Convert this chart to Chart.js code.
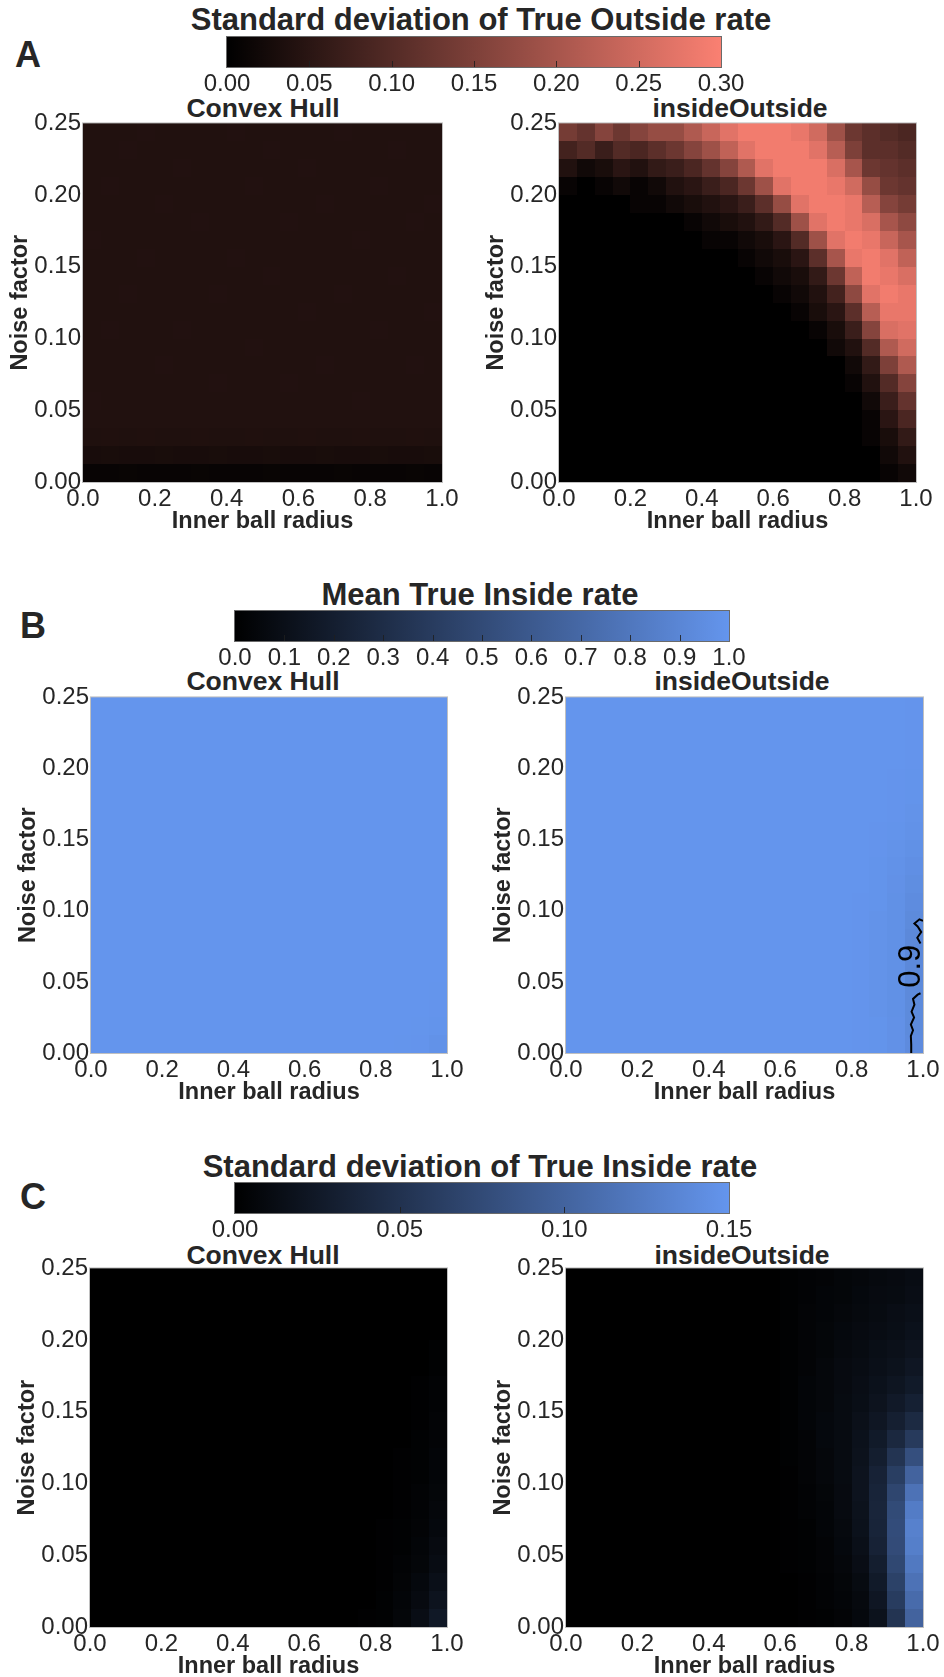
<!DOCTYPE html>
<html>
<head>
<meta charset="utf-8">
<script src="https://cdn.jsdelivr.net/npm/chart.js@4.4.1/dist/chart.umd.min.js"></script>
<style>
  body { margin: 0; background: #fff; }
  #page { position: relative; width: 944px; height: 1677px; overflow: hidden;
          font-family: 'Liberation Sans', Arial, sans-serif; color: #262626; }
  .txt { position: absolute; white-space: nowrap; line-height: 1; font-weight: bold; transform: translateX(-50%); }
  canvas { position: absolute; }
</style>
</head>
<body>
<div id="page">
  <div class="txt" style="left:28px; top:37px; font-size:36px;">A</div>
  <div class="txt" style="left:33px; top:608px; font-size:36px;">B</div>
  <div class="txt" style="left:33px; top:1179px; font-size:36px;">C</div>

  <div class="txt" style="left:481px; top:4px; font-size:31px;">Standard deviation of True Outside rate</div>
  <div class="txt" style="left:480px; top:579px; font-size:31px;">Mean True Inside rate</div>
  <div class="txt" style="left:480px; top:1151px; font-size:31px;">Standard deviation of True Inside rate</div>

  <div class="txt" style="left:263px; top:95px; font-size:26.5px;">Convex Hull</div>
  <div class="txt" style="left:740px; top:95px; font-size:26.5px;">insideOutside</div>
  <div class="txt" style="left:263px; top:668px; font-size:26.5px;">Convex Hull</div>
  <div class="txt" style="left:742px; top:668px; font-size:26.5px;">insideOutside</div>
  <div class="txt" style="left:263px; top:1242px; font-size:26.5px;">Convex Hull</div>
  <div class="txt" style="left:742px; top:1242px; font-size:26.5px;">insideOutside</div>

  <canvas id="cbA"></canvas>
  <canvas id="cbB"></canvas>
  <canvas id="cbC"></canvas>
  <canvas id="hmA1"></canvas>
  <canvas id="hmA2"></canvas>
  <canvas id="hmB1"></canvas>
  <canvas id="hmB2"></canvas>
  <canvas id="hmC1"></canvas>
  <canvas id="hmC2"></canvas>
</div>

<script>
// grid cell edges
const radiusEdges = [0, 0.05, 0.1, 0.15, 0.2, 0.25, 0.3, 0.35, 0.4, 0.45, 0.5, 0.55, 0.6, 0.65, 0.7, 0.75, 0.8, 0.85, 0.9, 0.95, 1.0];
const noiseEdges = [0, 0.0125, 0.025, 0.0375, 0.05, 0.0625, 0.075, 0.0875, 0.1, 0.1125, 0.125, 0.1375, 0.15, 0.1625, 0.175, 0.1875, 0.2, 0.2125, 0.225, 0.2375, 0.25];

// tick labels
const radiusTicks = [0, 0.2, 0.4, 0.6, 0.8, 1.0];
const noiseTicks = [0, 0.05, 0.1, 0.15, 0.2, 0.25];
const outsideStdTicks = [0, 0.05, 0.1, 0.15, 0.2, 0.25, 0.3];
const insideMeanTicks = [0, 0.1, 0.2, 0.3, 0.4, 0.5, 0.6, 0.7, 0.8, 0.9, 1.0];
const insideStdTicks = [0, 0.05, 0.1, 0.15];

// values, rows listed from noise 0.25 (top) down to 0 (bottom)
const convexOutsideStd = [
  [0.04,0.04,0.04,0.041,0.04,0.04,0.04,0.04,0.041,0.04,0.04,0.04,0.04,0.04,0.041,0.04,0.04,0.04,0.04,0.04],
  [0.04,0.04,0.041,0.04,0.04,0.04,0.04,0.04,0.04,0.04,0.041,0.04,0.04,0.04,0.04,0.04,0.04,0.041,0.04,0.04],
  [0.04,0.04,0.04,0.04,0.04,0.041,0.04,0.04,0.04,0.04,0.04,0.04,0.041,0.04,0.04,0.04,0.04,0.04,0.04,0.04],
  [0.04,0.041,0.04,0.04,0.04,0.04,0.04,0.04,0.04,0.041,0.04,0.04,0.04,0.04,0.04,0.04,0.041,0.04,0.04,0.04],
  [0.04,0.04,0.04,0.04,0.041,0.04,0.04,0.04,0.04,0.04,0.04,0.04,0.04,0.041,0.04,0.04,0.04,0.04,0.04,0.041],
  [0.04,0.04,0.04,0.04,0.04,0.04,0.041,0.04,0.04,0.04,0.04,0.041,0.04,0.04,0.04,0.04,0.04,0.04,0.041,0.04],
  [0.041,0.04,0.04,0.04,0.04,0.04,0.04,0.04,0.04,0.04,0.04,0.04,0.04,0.04,0.04,0.041,0.04,0.04,0.04,0.04],
  [0.04,0.04,0.04,0.041,0.04,0.04,0.04,0.04,0.041,0.04,0.04,0.04,0.04,0.04,0.04,0.04,0.04,0.04,0.04,0.04],
  [0.04,0.04,0.04,0.04,0.04,0.04,0.04,0.04,0.04,0.04,0.041,0.04,0.04,0.04,0.04,0.04,0.04,0.041,0.04,0.04],
  [0.04,0.04,0.041,0.04,0.04,0.04,0.04,0.041,0.04,0.04,0.04,0.04,0.04,0.04,0.041,0.04,0.04,0.04,0.04,0.04],
  [0.04,0.04,0.04,0.04,0.04,0.04,0.04,0.04,0.04,0.04,0.04,0.04,0.041,0.04,0.04,0.04,0.04,0.04,0.04,0.041],
  [0.04,0.041,0.04,0.04,0.04,0.041,0.04,0.04,0.04,0.04,0.04,0.04,0.04,0.04,0.04,0.04,0.041,0.04,0.04,0.04],
  [0.04,0.04,0.04,0.04,0.04,0.04,0.04,0.04,0.04,0.041,0.04,0.04,0.04,0.04,0.04,0.04,0.04,0.04,0.04,0.04],
  [0.04,0.04,0.04,0.04,0.041,0.04,0.04,0.04,0.04,0.04,0.04,0.04,0.04,0.041,0.04,0.04,0.04,0.04,0.041,0.04],
  [0.04,0.04,0.04,0.04,0.04,0.04,0.04,0.041,0.04,0.04,0.04,0.041,0.04,0.04,0.04,0.04,0.04,0.04,0.04,0.04],
  [0.041,0.04,0.04,0.04,0.04,0.04,0.04,0.04,0.04,0.04,0.04,0.04,0.04,0.04,0.04,0.041,0.04,0.04,0.04,0.04],
  [0.039,0.04,0.039,0.04,0.039,0.04,0.04,0.039,0.04,0.04,0.039,0.04,0.04,0.039,0.04,0.04,0.039,0.04,0.039,0.04],
  [0.037,0.038,0.037,0.038,0.037,0.037,0.038,0.037,0.037,0.038,0.037,0.037,0.038,0.037,0.037,0.038,0.037,0.037,0.038,0.037],
  [0.029,0.03,0.029,0.029,0.03,0.029,0.029,0.03,0.029,0.029,0.03,0.029,0.029,0.03,0.029,0.029,0.03,0.029,0.029,0.03],
  [0.01,0.01,0.011,0.01,0.01,0.01,0.011,0.01,0.01,0.01,0.011,0.01,0.01,0.01,0.011,0.01,0.01,0.01,0.011,0.01]
];

const ioOutsideStd = [
  [0.14,0.12,0.16,0.13,0.16,0.18,0.18,0.21,0.24,0.27,0.29,0.29,0.29,0.28,0.25,0.19,0.13,0.11,0.10,0.09],
  [0.08,0.10,0.07,0.10,0.09,0.11,0.13,0.16,0.19,0.23,0.27,0.29,0.29,0.29,0.27,0.22,0.15,0.11,0.11,0.10],
  [0.04,0.02,0.03,0.05,0.04,0.06,0.07,0.09,0.12,0.16,0.21,0.27,0.29,0.29,0.29,0.26,0.20,0.13,0.12,0.11],
  [0.01,0,0.01,0.02,0.01,0.02,0.04,0.05,0.07,0.09,0.13,0.19,0.27,0.29,0.29,0.28,0.25,0.18,0.13,0.12],
  [0,0,0,0,0.01,0.01,0.02,0.03,0.04,0.05,0.07,0.11,0.18,0.27,0.29,0.29,0.28,0.22,0.16,0.14],
  [0,0,0,0,0,0,0,0.01,0.02,0.03,0.04,0.06,0.10,0.19,0.27,0.29,0.28,0.26,0.20,0.17],
  [0,0,0,0,0,0,0,0,0.01,0.01,0.02,0.03,0.05,0.10,0.19,0.27,0.29,0.28,0.24,0.20],
  [0,0,0,0,0,0,0,0,0,0,0.01,0.02,0.03,0.05,0.11,0.20,0.28,0.29,0.27,0.23],
  [0,0,0,0,0,0,0,0,0,0,0,0.01,0.02,0.03,0.06,0.13,0.23,0.29,0.28,0.26],
  [0,0,0,0,0,0,0,0,0,0,0,0,0.01,0.02,0.04,0.08,0.17,0.27,0.29,0.28],
  [0,0,0,0,0,0,0,0,0,0,0,0,0,0.01,0.03,0.05,0.11,0.22,0.28,0.28],
  [0,0,0,0,0,0,0,0,0,0,0,0,0,0,0.01,0.03,0.07,0.16,0.26,0.27],
  [0,0,0,0,0,0,0,0,0,0,0,0,0,0,0,0.02,0.04,0.10,0.21,0.25],
  [0,0,0,0,0,0,0,0,0,0,0,0,0,0,0,0,0.02,0.06,0.15,0.21],
  [0,0,0,0,0,0,0,0,0,0,0,0,0,0,0,0,0.01,0.04,0.10,0.16],
  [0,0,0,0,0,0,0,0,0,0,0,0,0,0,0,0,0,0.02,0.07,0.12],
  [0,0,0,0,0,0,0,0,0,0,0,0,0,0,0,0,0,0.01,0.05,0.09],
  [0,0,0,0,0,0,0,0,0,0,0,0,0,0,0,0,0,0.01,0.03,0.06],
  [0,0,0,0,0,0,0,0,0,0,0,0,0,0,0,0,0,0,0.02,0.04],
  [0,0,0,0,0,0,0,0,0,0,0,0,0,0,0,0,0,0,0.01,0.02]
];

const convexInsideMean = [
  [1,1,1,1,1,1,1,1,1,1,1,1,1,1,1,1,1,1,1,1],
  [1,1,1,1,1,1,1,1,1,1,1,1,1,1,1,1,1,1,1,1],
  [1,1,1,1,1,1,1,1,1,1,1,1,1,1,1,1,1,1,1,1],
  [1,1,1,1,1,1,1,1,1,1,1,1,1,1,1,1,1,1,1,1],
  [1,1,1,1,1,1,1,1,1,1,1,1,1,1,1,1,1,1,1,1],
  [1,1,1,1,1,1,1,1,1,1,1,1,1,1,1,1,1,1,1,1],
  [1,1,1,1,1,1,1,1,1,1,1,1,1,1,1,1,1,1,1,1],
  [1,1,1,1,1,1,1,1,1,1,1,1,1,1,1,1,1,1,1,1],
  [1,1,1,1,1,1,1,1,1,1,1,1,1,1,1,1,1,1,1,1],
  [1,1,1,1,1,1,1,1,1,1,1,1,1,1,1,1,1,1,1,1],
  [1,1,1,1,1,1,1,1,1,1,1,1,1,1,1,1,1,1,1,1],
  [1,1,1,1,1,1,1,1,1,1,1,1,1,1,1,1,1,1,1,1],
  [1,1,1,1,1,1,1,1,1,1,1,1,1,1,1,1,1,1,1,1],
  [1,1,1,1,1,1,1,1,1,1,1,1,1,1,1,1,1,1,1,1],
  [1,1,1,1,1,1,1,1,1,1,1,1,1,1,1,1,1,1,1,1],
  [1,1,1,1,1,1,1,1,1,1,1,1,1,1,1,1,1,1,1,1],
  [1,1,1,1,1,1,1,1,1,1,1,1,1,1,1,1,1,1,1,0.997],
  [1,1,1,1,1,1,1,1,1,1,1,1,1,1,1,1,1,1,1,0.995],
  [1,1,1,1,1,1,1,1,1,1,1,1,1,1,1,1,1,1,0.997,0.99],
  [1,1,1,1,1,1,1,1,1,1,1,1,1,1,1,1,1,0.997,0.995,0.98]
];

const ioInsideMean = [
  [1,1,1,1,1,1,1,1,1,1,1,1,1,1,1,1,1,1,1,0.995],
  [1,1,1,1,1,1,1,1,1,1,1,1,1,1,1,1,1,1,1,0.995],
  [1,1,1,1,1,1,1,1,1,1,1,1,1,1,1,1,1,1,1,0.995],
  [1,1,1,1,1,1,1,1,1,1,1,1,1,1,1,1,1,1,1,0.995],
  [1,1,1,1,1,1,1,1,1,1,1,1,1,1,1,1,1,1,0.995,0.99],
  [1,1,1,1,1,1,1,1,1,1,1,1,1,1,1,1,1,1,0.995,0.99],
  [1,1,1,1,1,1,1,1,1,1,1,1,1,1,1,1,1,1,0.995,0.985],
  [1,1,1,1,1,1,1,1,1,1,1,1,1,1,1,1,1,0.995,0.99,0.98],
  [1,1,1,1,1,1,1,1,1,1,1,1,1,1,1,1,1,0.995,0.985,0.97],
  [1,1,1,1,1,1,1,1,1,1,1,1,1,1,1,1,1,0.99,0.98,0.96],
  [1,1,1,1,1,1,1,1,1,1,1,1,1,1,1,1,1,0.99,0.975,0.95],
  [1,1,1,1,1,1,1,1,1,1,1,1,1,1,1,1,0.995,0.99,0.97,0.94],
  [1,1,1,1,1,1,1,1,1,1,1,1,1,1,1,1,0.995,0.985,0.97,0.93],
  [1,1,1,1,1,1,1,1,1,1,1,1,1,1,1,1,0.995,0.985,0.97,0.92],
  [1,1,1,1,1,1,1,1,1,1,1,1,1,1,1,1,0.995,0.985,0.97,0.92],
  [1,1,1,1,1,1,1,1,1,1,1,1,1,1,1,1,0.995,0.985,0.97,0.92],
  [1,1,1,1,1,1,1,1,1,1,1,1,1,1,1,1,0.995,0.985,0.97,0.925],
  [1,1,1,1,1,1,1,1,1,1,1,1,1,1,1,1,0.995,0.985,0.97,0.93],
  [1,1,1,1,1,1,1,1,1,1,1,1,1,1,1,1,0.995,0.99,0.975,0.93],
  [1,1,1,1,1,1,1,1,1,1,1,1,1,1,1,1,0.995,0.99,0.975,0.935]
];

// the 0.9 contour of the insideOutside mean, split where its label sits
const contourLevel = 0.9;
const contourLowerX = [0.967, 0.967, 0.966, 0.972, 0.966, 0.975, 0.968, 0.976, 0.972, 0.985, 0.993];
const contourLowerY = [0.000, 0.006, 0.012, 0.016, 0.020, 0.025, 0.029, 0.034, 0.038, 0.041, 0.042];
const contourUpperX = [0.993, 0.984, 0.995, 0.985, 0.976, 0.990, 1.000];
const contourUpperY = [0.077, 0.081, 0.085, 0.089, 0.091, 0.094, 0.093];
const contourLabelAt = [0.969, 0.061];

const convexInsideStd = [
  [0,0,0,0,0,0,0,0,0,0,0,0,0,0,0,0,0,0,0,0],
  [0,0,0,0,0,0,0,0,0,0,0,0,0,0,0,0,0,0,0,0],
  [0,0,0,0,0,0,0,0,0,0,0,0,0,0,0,0,0,0,0,0],
  [0,0,0,0,0,0,0,0,0,0,0,0,0,0,0,0,0,0,0,0],
  [0,0,0,0,0,0,0,0,0,0,0,0,0,0,0,0,0,0,0,0.002],
  [0,0,0,0,0,0,0,0,0,0,0,0,0,0,0,0,0,0,0,0.002],
  [0,0,0,0,0,0,0,0,0,0,0,0,0,0,0,0,0,0,0.001,0.003],
  [0,0,0,0,0,0,0,0,0,0,0,0,0,0,0,0,0,0,0.001,0.003],
  [0,0,0,0,0,0,0,0,0,0,0,0,0,0,0,0,0,0,0.001,0.004],
  [0,0,0,0,0,0,0,0,0,0,0,0,0,0,0,0,0,0,0.002,0.004],
  [0,0,0,0,0,0,0,0,0,0,0,0,0,0,0,0,0,0.001,0.002,0.005],
  [0,0,0,0,0,0,0,0,0,0,0,0,0,0,0,0,0,0.001,0.002,0.005],
  [0,0,0,0,0,0,0,0,0,0,0,0,0,0,0,0,0,0.001,0.003,0.006],
  [0,0,0,0,0,0,0,0,0,0,0,0,0,0,0,0,0,0.001,0.003,0.007],
  [0,0,0,0,0,0,0,0,0,0,0,0,0,0,0,0,0.001,0.002,0.004,0.008],
  [0,0,0,0,0,0,0,0,0,0,0,0,0,0,0,0,0.001,0.002,0.005,0.01],
  [0,0,0,0,0,0,0,0,0,0,0,0,0,0,0,0,0.001,0.003,0.006,0.012],
  [0,0,0,0,0,0,0,0,0,0,0,0,0,0,0,0,0.001,0.004,0.008,0.015],
  [0,0,0,0,0,0,0,0,0,0,0,0,0,0,0,0,0.002,0.005,0.01,0.019],
  [0,0,0,0,0,0,0,0,0,0,0,0,0,0,0,0.001,0.002,0.006,0.013,0.024]
];

const ioInsideStd = [
  [0,0,0,0,0,0,0,0,0,0,0,0,0.002,0.003,0.004,0.006,0.007,0.009,0.010,0.012],
  [0,0,0,0,0,0,0,0,0,0,0,0,0.002,0.003,0.005,0.006,0.008,0.010,0.011,0.013],
  [0,0,0,0,0,0,0,0,0,0,0,0,0.002,0.004,0.005,0.007,0.009,0.011,0.013,0.015],
  [0,0,0,0,0,0,0,0,0,0,0,0,0.002,0.004,0.006,0.008,0.010,0.012,0.014,0.017],
  [0,0,0,0,0,0,0,0,0,0,0,0,0.002,0.004,0.006,0.009,0.011,0.014,0.016,0.019],
  [0,0,0,0,0,0,0,0,0,0,0,0,0.002,0.004,0.007,0.010,0.012,0.015,0.018,0.022],
  [0,0,0,0,0,0,0,0,0,0,0,0,0.002,0.005,0.007,0.010,0.013,0.017,0.021,0.026],
  [0,0,0,0,0,0,0,0,0,0,0,0,0.002,0.005,0.007,0.011,0.014,0.019,0.025,0.032],
  [0,0,0,0,0,0,0,0,0,0,0,0,0.002,0.005,0.008,0.011,0.016,0.022,0.031,0.042],
  [0,0,0,0,0,0,0,0,0,0,0,0,0.002,0.004,0.008,0.011,0.017,0.026,0.040,0.058],
  [0,0,0,0,0,0,0,0,0,0,0,0,0.002,0.004,0.007,0.011,0.018,0.030,0.052,0.080],
  [0,0,0,0,0,0,0,0,0,0,0,0,0.001,0.004,0.007,0.011,0.019,0.034,0.062,0.100],
  [0,0,0,0,0,0,0,0,0,0,0,0,0.001,0.003,0.006,0.010,0.019,0.036,0.070,0.115],
  [0,0,0,0,0,0,0,0,0,0,0,0,0.001,0.003,0.005,0.010,0.018,0.037,0.075,0.125],
  [0,0,0,0,0,0,0,0,0,0,0,0,0.001,0.002,0.005,0.009,0.017,0.036,0.077,0.130],
  [0,0,0,0,0,0,0,0,0,0,0,0,0.001,0.002,0.004,0.008,0.015,0.034,0.076,0.128],
  [0,0,0,0,0,0,0,0,0,0,0,0,0.001,0.002,0.004,0.007,0.013,0.030,0.072,0.122],
  [0,0,0,0,0,0,0,0,0,0,0,0,0,0.001,0.003,0.006,0.011,0.026,0.066,0.115],
  [0,0,0,0,0,0,0,0,0,0,0,0,0,0.001,0.003,0.005,0.009,0.022,0.060,0.108],
  [0,0,0,0,0,0,0,0,0,0,0,0,0,0.001,0.002,0.004,0.008,0.018,0.052,0.100]
];

// ---- colour maps ----
const SALMON = [250, 128, 114];
const CORNFLOWER = [100, 149, 237];

function cmap(rgb, t) {
    t = Math.max(0, Math.min(1, t));
    return 'rgb(' + Math.round(rgb[0] * t) + ',' + Math.round(rgb[1] * t) + ',' + Math.round(rgb[2] * t) + ')';
}

Chart.defaults.font.family = "'Liberation Sans', Arial, sans-serif";
Chart.defaults.color = '#262626';

const TEXT = '#262626';
const Y_AXIS_W = 90, X_AXIS_H = 60, PAD_TOP = 15, PAD_RIGHT = 25;
const noGrid = { display: false, drawTicks: false, tickLength: 0 };

// Draw the cells of one grid through the chart's own scales
function cellsPlugin(values, vmax, rgb) {
    return {
        id: 'cells',
        beforeDatasetsDraw(chart) {
            const {ctx, chartArea, scales: {x, y}} = chart;
            const nRows = values.length;
            ctx.save();
            values.forEach((row, r) => {
                const top = Math.round(y.getPixelForValue(noiseEdges[nRows - r]));
                const bottom = Math.round(y.getPixelForValue(noiseEdges[nRows - r - 1]));
                row.forEach((v, c) => {
                    const left = Math.round(x.getPixelForValue(radiusEdges[c]));
                    const right = Math.round(x.getPixelForValue(radiusEdges[c + 1]));
                    ctx.fillStyle = cmap(rgb, v / vmax);
                    ctx.fillRect(left, top, right - left, bottom - top);
                });
            });
            ctx.strokeStyle = '#c0c0c0';
            ctx.lineWidth = 1;
            ctx.strokeRect(chartArea.left - 0.5, chartArea.top - 0.5, chartArea.width + 1, chartArea.height + 1);
            ctx.restore();
        }
    };
}

function makeHeatmap(id, box, values, vmax, rgb, datasets, extraPlugins) {
    const canvas = document.getElementById(id);
    canvas.width = (box.r - box.l) + Y_AXIS_W + PAD_RIGHT;
    canvas.height = (box.b - box.t) + PAD_TOP + X_AXIS_H;
    canvas.style.left = (box.l - Y_AXIS_W) + 'px';
    canvas.style.top = (box.t - PAD_TOP) + 'px';
    return new Chart(canvas.getContext('2d'), {
        type: 'scatter',
        data: { datasets: datasets || [] },
        options: {
            responsive: false,
            animation: false,
            layout: { padding: { left: 0, top: PAD_TOP, right: PAD_RIGHT, bottom: 0 } },
            plugins: { legend: { display: false }, tooltip: { enabled: false } },
            scales: {
                x: {
                    type: 'linear', min: 0, max: 1,
                    grid: noGrid, border: { display: false },
                    afterBuildTicks: s => { s.ticks = radiusTicks.map(v => ({ value: v })); },
                    afterFit: s => { s.height = X_AXIS_H; },
                    ticks: { font: { size: 24 }, color: TEXT, padding: 3, maxRotation: 0, autoSkip: false,
                             callback: v => v.toFixed(1) },
                    title: { display: true, text: 'Inner ball radius', color: TEXT,
                             font: { size: 23.5, weight: 'bold' }, padding: { top: 0, bottom: 6 } }
                },
                y: {
                    type: 'linear', min: 0, max: 0.25,
                    grid: noGrid, border: { display: false },
                    afterBuildTicks: s => { s.ticks = noiseTicks.map(v => ({ value: v })); },
                    afterFit: s => { s.width = Y_AXIS_W; },
                    ticks: { font: { size: 24 }, color: TEXT, padding: 2, autoSkip: false,
                             callback: v => v.toFixed(2) },
                    title: { display: true, text: 'Noise factor', color: TEXT,
                             font: { size: 23.5, weight: 'bold' }, padding: { top: 13, bottom: 0 } }
                }
            }
        },
        plugins: [cellsPlugin(values, vmax, rgb)].concat(extraPlugins || [])
    });
}

function makeColorbar(id, box, ticks, digits, rgb) {
    const PADX = 30, PADY = 2, LABEL_H = 34;
    const canvas = document.getElementById(id);
    canvas.width = (box.r - box.l) + 2 * PADX;
    canvas.height = (box.b - box.t) + PADY + LABEL_H;
    canvas.style.left = (box.l - PADX) + 'px';
    canvas.style.top = (box.t - PADY) + 'px';
    const vmax = ticks[ticks.length - 1];
    return new Chart(canvas.getContext('2d'), {
        type: 'scatter',
        data: { datasets: [] },
        options: {
            responsive: false,
            animation: false,
            layout: { padding: { left: PADX, right: PADX, top: PADY, bottom: 0 } },
            plugins: { legend: { display: false }, tooltip: { enabled: false } },
            scales: {
                x: {
                    type: 'linear', min: 0, max: vmax,
                    grid: noGrid, border: { display: false },
                    afterBuildTicks: s => { s.ticks = ticks.map(v => ({ value: v })); },
                    afterFit: s => { s.height = LABEL_H; },
                    ticks: { font: { size: 24 }, color: TEXT, padding: 3, maxRotation: 0, autoSkip: false,
                             callback: v => v.toFixed(digits) }
                },
                y: { display: false, min: 0, max: 1 }
            }
        },
        plugins: [{
            id: 'colorbar',
            beforeDatasetsDraw(chart) {
                const {ctx, chartArea: a, scales: {x}} = chart;
                ctx.save();
                const g = ctx.createLinearGradient(x.getPixelForValue(0), 0, x.getPixelForValue(vmax), 0);
                g.addColorStop(0, cmap(rgb, 0));
                g.addColorStop(1, cmap(rgb, 1));
                ctx.fillStyle = g;
                ctx.fillRect(a.left, a.top, a.width, a.height);
                ctx.strokeStyle = 'rgba(30,30,30,0.85)';
                ctx.lineWidth = 1;
                ticks.slice(1, -1).forEach(v => {
                    const px = Math.round(x.getPixelForValue(v)) + 0.5;
                    ctx.beginPath();
                    ctx.moveTo(px, a.bottom);
                    ctx.lineTo(px, a.bottom - 6);
                    ctx.stroke();
                });
                ctx.strokeStyle = '#6a6a6a';
                ctx.strokeRect(a.left - 0.5, a.top - 0.5, a.width + 1, a.height + 1);
                ctx.restore();
            }
        }]
    });
}

// ---- layout of the panels (plot areas, page pixels) ----
const boxA1 = { l: 83, t: 122, r: 442, b: 482 };
const boxA2 = { l: 559, t: 122, r: 916, b: 482 };
const boxB1 = { l: 91, t: 696, r: 447, b: 1053 };
const boxB2 = { l: 566, t: 696, r: 923, b: 1053 };
const boxC1 = { l: 90, t: 1267, r: 447, b: 1627 };
const boxC2 = { l: 566, t: 1267, r: 923, b: 1627 };

makeColorbar('cbA', { l: 227, t: 37, r: 721, b: 67 }, outsideStdTicks, 2, SALMON);
makeColorbar('cbB', { l: 235, t: 611, r: 729, b: 641 }, insideMeanTicks, 1, CORNFLOWER);
makeColorbar('cbC', { l: 235, t: 1183, r: 729, b: 1213 }, insideStdTicks, 2, CORNFLOWER);

makeHeatmap('hmA1', boxA1, convexOutsideStd, 0.3, SALMON);
makeHeatmap('hmA2', boxA2, ioOutsideStd, 0.3, SALMON);
makeHeatmap('hmB1', boxB1, convexInsideMean, 1.0, CORNFLOWER);

const contourStyle = { type: 'scatter', showLine: true, borderColor: '#000', borderWidth: 2, pointRadius: 0 };
makeHeatmap('hmB2', boxB2, ioInsideMean, 1.0, CORNFLOWER, [
    Object.assign({ data: contourLowerX.map((x, i) => ({ x: x, y: contourLowerY[i] })) }, contourStyle),
    Object.assign({ data: contourUpperX.map((x, i) => ({ x: x, y: contourUpperY[i] })) }, contourStyle)
], [{
    id: 'contourLabel',
    afterDatasetsDraw(chart) {
        const {ctx, scales: {x, y}} = chart;
        ctx.save();
        ctx.translate(x.getPixelForValue(contourLabelAt[0]), y.getPixelForValue(contourLabelAt[1]));
        ctx.rotate(-Math.PI / 2);
        ctx.font = "31px 'Liberation Sans', Arial, sans-serif";
        ctx.fillStyle = '#000';
        ctx.textAlign = 'center';
        ctx.textBaseline = 'middle';
        ctx.fillText(contourLevel.toFixed(1), 0, 0);
        ctx.restore();
    }
}]);

makeHeatmap('hmC1', boxC1, convexInsideStd, 0.15, CORNFLOWER);
makeHeatmap('hmC2', boxC2, ioInsideStd, 0.15, CORNFLOWER);
</script>
</body>
</html>
